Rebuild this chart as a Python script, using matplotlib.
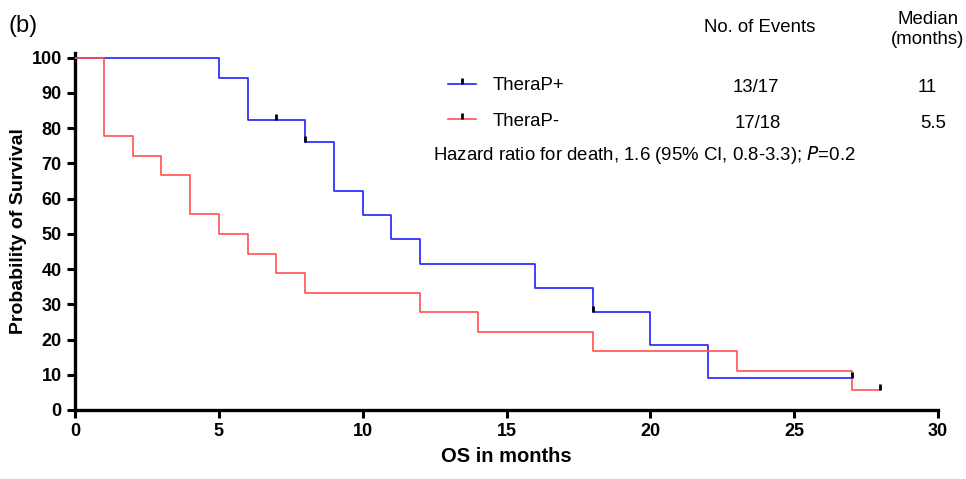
import matplotlib
matplotlib.use("Agg")
import matplotlib.pyplot as plt
from matplotlib.lines import Line2D
from matplotlib.path import Path

plt.rcParams['font.family'] = ['Liberation Sans', 'DejaVu Sans']

# ---- data ----
blue_t = [0, 5, 6, 8, 9, 10, 11, 12, 16, 18, 20, 22, 27]
blue_s = [100, 94.1, 82.4, 76.0, 62.2, 55.3, 48.4, 41.5, 34.6, 27.7, 18.4, 9.2, 9.2]
blue_cens_t = [7, 8, 18, 27]
blue_cens_s = [82.4, 76.0, 27.7, 9.2]

red_t = [0, 1, 2, 3, 4, 5, 6, 7, 8, 12, 14, 18, 23, 27, 28]
red_s = [100, 77.8, 72.2, 66.7, 55.6, 50.0, 44.4, 38.9, 33.3, 27.8, 22.2, 16.7, 11.1, 5.6, 5.6]
red_cens_t = [28]
red_cens_s = [5.6]

groups = ["TheraP+", "TheraP-"]
events = ["13/17", "17/18"]
medians = ["11", "5.5"]
x_ticks = [0, 5, 10, 15, 20, 25, 30]
y_ticks = [0, 10, 20, 30, 40, 50, 60, 70, 80, 90, 100]

BLUE = '#2020ff'
RED = '#ff5050'
FS = 13.4

W, H = 966, 479
fig = plt.figure(figsize=(W / 100, H / 100), dpi=100)
ax = fig.add_axes([75 / W, 1 - 410 / H, (938 - 75) / W, (410 - 53) / H])

tick_marker = Path([(0, 0), (0, 1)], [Path.MOVETO, Path.LINETO])

ax.plot(blue_t, blue_s, drawstyle='steps-post', color=BLUE, lw=1.2, zorder=3)
ax.plot(red_t, red_s, drawstyle='steps-post', color=RED, lw=1.2, zorder=4)
ax.plot(blue_cens_t, blue_cens_s, ls='none', marker=tick_marker, ms=9,
        mew=2.0, color='black', zorder=5)
ax.plot(red_cens_t, red_cens_s, ls='none', marker=tick_marker, ms=9,
        mew=2.0, color='black', zorder=5)

ax.set_xlim(0, 30)
ax.set_ylim(0, 101.3)
ax.set_xticks(x_ticks)
ax.set_yticks(y_ticks)
ax.tick_params(axis='both', which='major', direction='out', length=6, width=2.2,
               labelsize=13, color='black')
for lab in ax.get_xticklabels() + ax.get_yticklabels():
    lab.set_fontweight('bold')
for s in ['top', 'right']:
    ax.spines[s].set_visible(False)
for s in ['left', 'bottom']:
    ax.spines[s].set_linewidth(2.4)

ax.set_xlabel("OS in months", fontsize=14.5, fontweight='bold', labelpad=5)
ax.set_ylabel("Probability of Survival", fontsize=14, fontweight='bold', labelpad=3)

# legend
handles = [Line2D([0], [0], color=BLUE, lw=1.2, marker=tick_marker, ms=8,
                  mec='black', mew=2.0),
           Line2D([0], [0], color=RED, lw=1.2, marker=tick_marker, ms=8,
                  mec='black', mew=2.0)]
leg = ax.legend(handles, groups, loc='upper left', frameon=False,
                bbox_to_anchor=(448 / W, 1 - 77 / H), bbox_transform=fig.transFigure,
                fontsize=FS, handlelength=1.5, handletextpad=0.9, numpoints=1,
                labelspacing=1.0, borderpad=0, borderaxespad=0)

def ft(x, y, s, **kw):
    fig.text(x / W, 1 - y / H, s, **kw)

ft(8, 26, "(b)", fontsize=17, ha='left', va='center')
ft(760, 27, "No. of Events", fontsize=FS, ha='center', va='center')
ft(928, 20, "Median", fontsize=FS, ha='center', va='center')
ft(928, 40, "(months)", fontsize=FS, ha='center', va='center')
ft(756, 87, events[0], fontsize=FS, ha='center', va='center')
ft(758, 123, events[1], fontsize=FS, ha='center', va='center')
ft(927, 87, medians[0], fontsize=FS, ha='center', va='center')
ft(933, 123, medians[1], fontsize=FS, ha='center', va='center')
ft(433, 155, "Hazard ratio for death, 1.6 (95% CI, 0.8-3.3); $\\it{P}$=0.2",
   fontsize=FS, ha='left', va='center')

fig.savefig("out.png", dpi=100)
